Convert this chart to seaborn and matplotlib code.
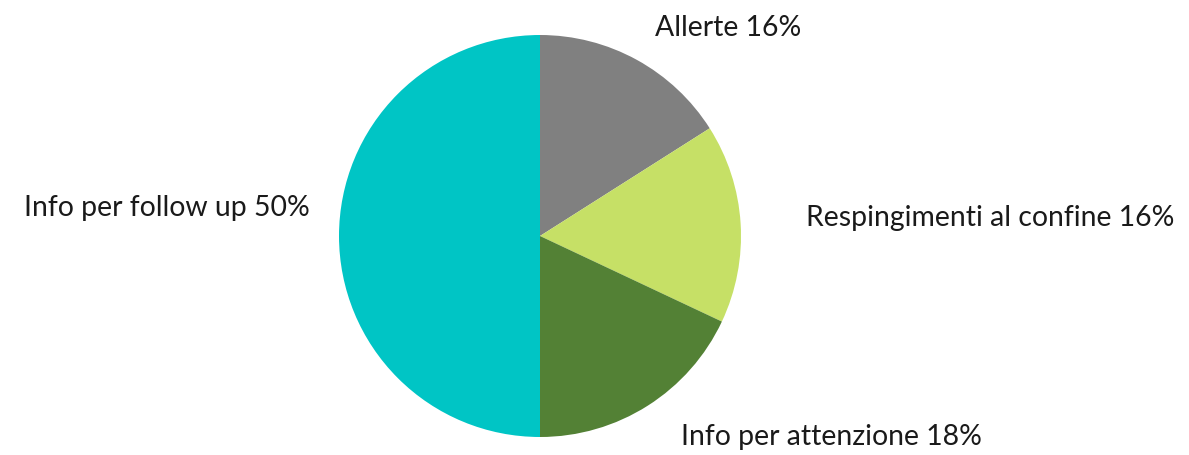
import matplotlib
matplotlib.use("Agg")
import matplotlib.pyplot as plt
import seaborn as sns

# Data
categories = ["Allerte", "Respingimenti al confine", "Info per attenzione", "Info per follow up"]
shares = [16, 16, 18, 50]
colors = ["#808080", "#C6E066", "#538135", "#00C5C5"]

sns.set_theme(style="white")
plt.rcParams['font.family'] = ['Lato', 'DejaVu Sans']

fig = plt.figure(figsize=(11.89, 4.56), dpi=100)
# pie centre at (540, 237) px, radius ~201 px
ax = fig.add_axes([339 / 1189, 18 / 456, 402 / 1189, 402 / 456])

wedges, _ = ax.pie(shares, colors=colors, startangle=90, counterclock=False,
                   radius=1.0, wedgeprops=dict(linewidth=0))
ax.set_xlim(-1, 1)
ax.set_ylim(-1, 1)
ax.set_aspect("equal")
ax.axis("off")

# label positions in data units (radius = 1)
label_pos = [(0.572, 1.04, "left"), (1.323, 0.095, "left"),
             (0.701, -0.995, "left"), (-1.144, 0.144, "right")]
for cat, val, (x, y, ha) in zip(categories, shares, label_pos):
    ax.text(x, y, f"{cat} {val}%", ha=ha, va="center", fontsize=20.4,
            color="#1a1a1a", clip_on=False)

fig.savefig("out.png", dpi=100)
